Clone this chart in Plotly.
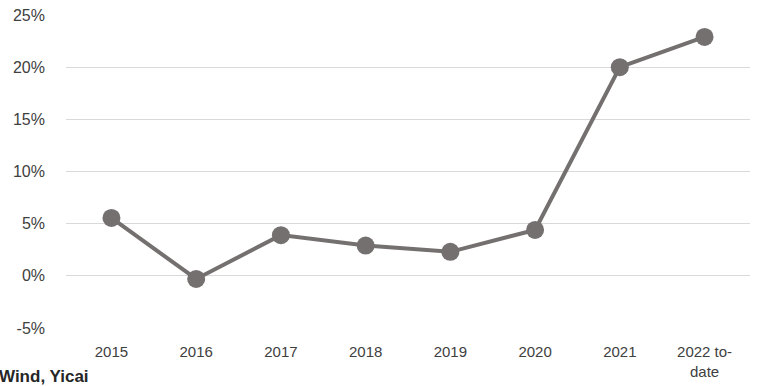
import plotly.graph_objects as go

categories = ["2015", "2016", "2017", "2018", "2019", "2020", "2021", "2022 to-<br>date"]
values = [5.55, -0.3, 3.9, 2.9, 2.3, 4.4, 20.0, 22.9]
y_ticks = [-5, 0, 5, 10, 15, 20, 25]
y_tick_labels = ["-5%", "0%", "5%", "10%", "15%", "20%", "25%"]
source_text = "Wind, Yicai"

fig = go.Figure()
fig.add_trace(go.Scatter(
    x=categories, y=values, mode="lines+markers",
    line=dict(color="#757070", width=4),
    marker=dict(color="#757070", size=18),
    cliponaxis=False,
))

fig.update_layout(
    width=760, height=386,
    margin=dict(l=66, r=10, t=15, b=58),
    paper_bgcolor="white", plot_bgcolor="white",
    showlegend=False,
    font=dict(family="Liberation Sans", size=15, color="#404040"),
    xaxis=dict(type="category", showgrid=False, zeroline=False, showline=False,
               automargin=False,
               ticks="", ticklabelstandoff=13, tickfont=dict(size=15, color="#404040")),
    yaxis=dict(range=[-5, 25], tickvals=y_ticks, ticktext=y_tick_labels,
               automargin=False,
               showgrid=True, gridcolor="#d9d9d9", gridwidth=1, zeroline=False,
               showline=False, ticks="", ticklabelstandoff=20,
               tickfont=dict(size=16, color="#404040")),
    annotations=[dict(text="<b>" + source_text + "</b>", xref="paper", yref="paper",
                      x=-69/684, y=-60/313, xanchor="left", yanchor="bottom",
                      showarrow=False, font=dict(size=17, color="#262626"))],
)

fig.write_html("out.html", config={"displayModeBar": False},
               post_script="document.body.style.margin='0';")
